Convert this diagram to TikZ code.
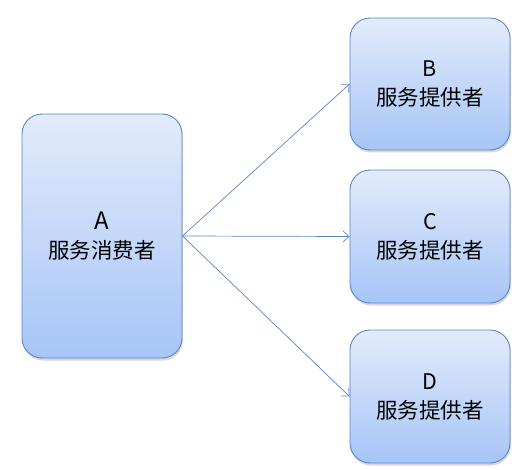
\documentclass[tikz,border=0pt]{standalone}
\usepackage{fontspec}
\setmainfont{Noto Sans CJK SC}
\usepackage{tikz}
\usetikzlibrary{arrows.meta,shadows}
\definecolor{boxline}{HTML}{5B84C4}
\definecolor{boxtop}{HTML}{E2EBFB}
\definecolor{boxbot}{HTML}{A7C5F7}
\tikzset{
  dienst/.style={draw=boxline,line width=0.9pt,rounded corners=20pt,top color=boxtop,bottom color=boxbot,
    align=center,minimum width=160pt,inner sep=0pt,font=\fontsize{21.5}{29}\selectfont,
    drop shadow={shadow xshift=1pt,shadow yshift=-2.5pt,opacity=0.25,fill=black!60}},
  pfeil/.style={draw=boxline,line width=0.7pt,-{Straight Barb[length=6pt,width=11pt]}}
}
\begin{document}
\begin{tikzpicture}[x=1pt,y=-1pt] %Dienste
		\useasboundingbox (0,0) rectangle (521,470);
		\node[dienst,minimum height=244pt] (a) at (102,236) {{\fontsize{24}{29}\selectfont A}\\服务消费者};
		\node[dienst,minimum height=132pt] (b) at (430,84) {B\\服务提供者};
		\node[dienst,minimum height=133pt] (c) at (430,236.5) {C\\服务提供者};
		\node[dienst,minimum height=133pt] (d) at (430,396.5) {D\\服务提供者};
		\draw[pfeil] (a.east) -- (b.west);
		\draw[pfeil] (a.east) -- (c.west);
		\draw[pfeil] (a.east) -- (d.west);
\end{tikzpicture}
\end{document}
